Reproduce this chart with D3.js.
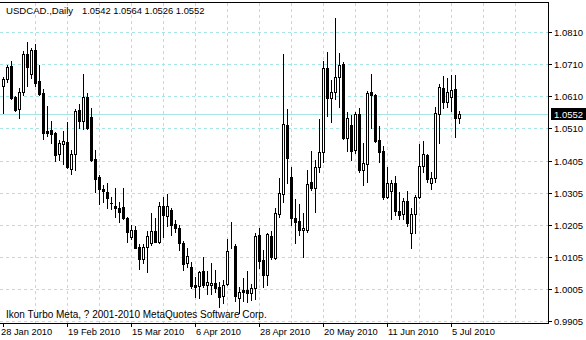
<!DOCTYPE html>
<html><head><meta charset="utf-8">
<script src="https://cdn.jsdelivr.net/npm/d3@7"></script>
<style>
body{margin:0;background:#fff}
svg{display:block}
text{font-family:"Liberation Sans",Arial,sans-serif;fill:#000}
</style>
</head><body>
<svg id="chart" width="586" height="340"></svg>
<script>
// ---------- data ----------
const symbol = "USDCAD.,Daily";
const headerValues = ["1.0542", "1.0564", "1.0526", "1.0552"];
const copyright = "Ikon Turbo Meta, ? 2001-2010 MetaQuotes Software Corp.";

const dates = [
"2010-01-28","2010-01-29",
"2010-02-01","2010-02-02","2010-02-03","2010-02-04","2010-02-05",
"2010-02-08","2010-02-09","2010-02-10","2010-02-11","2010-02-12",
"2010-02-15","2010-02-16","2010-02-17","2010-02-18","2010-02-19",
"2010-02-22","2010-02-23","2010-02-24","2010-02-25","2010-02-26",
"2010-03-01","2010-03-02","2010-03-03","2010-03-04","2010-03-05",
"2010-03-08","2010-03-09","2010-03-10","2010-03-11","2010-03-12",
"2010-03-15","2010-03-16","2010-03-17","2010-03-18","2010-03-19",
"2010-03-22","2010-03-23","2010-03-24","2010-03-25","2010-03-26",
"2010-03-29","2010-03-30","2010-03-31","2010-04-01","2010-04-02",
"2010-04-05","2010-04-06","2010-04-07","2010-04-08","2010-04-09",
"2010-04-12","2010-04-13","2010-04-14","2010-04-15","2010-04-16",
"2010-04-19","2010-04-20","2010-04-21","2010-04-22","2010-04-23",
"2010-04-26","2010-04-27","2010-04-28","2010-04-29","2010-04-30",
"2010-05-03","2010-05-04","2010-05-05","2010-05-06","2010-05-07",
"2010-05-10","2010-05-11","2010-05-12","2010-05-13","2010-05-14",
"2010-05-17","2010-05-18","2010-05-19","2010-05-20","2010-05-21",
"2010-05-24","2010-05-25","2010-05-26","2010-05-27","2010-05-28",
"2010-05-31","2010-06-01","2010-06-02","2010-06-03","2010-06-04",
"2010-06-07","2010-06-08","2010-06-09","2010-06-10","2010-06-11",
"2010-06-14","2010-06-15","2010-06-16","2010-06-17","2010-06-18",
"2010-06-21","2010-06-22","2010-06-23","2010-06-24","2010-06-25",
"2010-06-28","2010-06-29","2010-06-30","2010-07-01","2010-07-02",
"2010-07-05","2010-07-06","2010-07-07"];

const openVals = [
1.0641,1.0662,1.0704,1.0607,1.0568,1.0621,1.0740,1.0680,1.0753,1.0657,
1.0618,1.0501,1.0503,1.0493,1.0429,1.0458,1.0467,1.0381,1.0427,1.0566,
1.0532,1.0608,1.0544,1.0412,1.0355,1.0318,1.0310,1.0275,1.0266,1.0260,
1.0262,1.0229,1.0169,1.0190,1.0138,1.0098,1.0136,1.0148,1.0187,1.0153,
1.0265,1.0235,1.0253,1.0209,1.0197,1.0148,1.0086,1.0075,1.0018,1.0016,
1.0062,1.0018,1.0018,1.0025,1.0012,0.9984,1.0020,1.0143,1.0141,0.9976,
1.0002,1.0002,0.9992,1.0007,1.0174,1.0096,1.0049,1.0172,1.0103,1.0240,
1.0302,1.0519,1.0355,1.0227,1.0218,1.0190,1.0190,1.0339,1.0321,1.0386,
1.0435,1.0697,1.0602,1.0621,1.0670,1.0709,1.0479,1.0519,1.0441,1.0552,
1.0378,1.0396,1.0621,1.0613,1.0472,1.0438,1.0294,1.0312,1.0336,1.0250,
1.0239,1.0281,1.0180,1.0239,1.0292,1.0391,1.0425,1.0336,1.0354,1.0553,
1.0634,1.0592,1.0608,1.0632,1.0542];
const highVals = [
1.0669,1.0707,1.0719,1.0610,1.0635,1.0751,1.0778,1.0759,1.0772,1.0707,
1.0632,1.0579,1.0531,1.0498,1.0471,1.0500,1.0527,1.0441,1.0569,1.0584,
1.0678,1.0618,1.0571,1.0441,1.0362,1.0331,1.0336,1.0294,1.0321,1.0277,
1.0323,1.0232,1.0206,1.0204,1.0145,1.0145,1.0187,1.0242,1.0227,1.0279,
1.0294,1.0303,1.0258,1.0221,1.0206,1.0156,1.0133,1.0089,1.0044,1.0062,
1.0106,1.0062,1.0086,1.0065,1.0028,1.0033,1.0162,1.0214,1.0145,1.0012,
1.0039,1.0062,1.0020,1.0180,1.0195,1.0127,1.0180,1.0187,1.0258,1.0354,
1.0740,1.0569,1.0388,1.0287,1.0271,1.0244,1.0378,1.0437,1.0409,1.0538,
1.0719,1.0747,1.0660,1.0853,1.0743,1.0717,1.0561,1.0550,1.0559,1.0571,
1.0462,1.0625,1.0678,1.0615,1.0516,1.0454,1.0386,1.0347,1.0359,1.0310,
1.0291,1.0312,1.0258,1.0300,1.0458,1.0469,1.0427,1.0371,1.0574,1.0646,
1.0672,1.0665,1.0676,1.0676,1.0564];
const lowVals = [
1.0556,1.0654,1.0600,1.0563,1.0542,1.0613,1.0642,1.0665,1.0642,1.0613,
1.0475,1.0485,1.0463,1.0407,1.0409,1.0396,1.0383,1.0366,1.0378,1.0509,
1.0506,1.0506,1.0406,1.0310,1.0271,1.0279,1.0258,1.0256,1.0232,1.0216,
1.0225,1.0153,1.0162,1.0133,1.0067,1.0086,1.0059,1.0143,1.0151,1.0148,
1.0169,1.0204,1.0174,1.0185,1.0127,1.0065,1.0075,1.0009,0.9981,0.9976,
1.0012,0.9989,0.9989,0.9997,0.9950,0.9960,1.0018,1.0133,0.9968,0.9929,
0.9968,0.9965,0.9971,0.9974,1.0072,1.0012,1.0018,1.0099,1.0099,1.0232,
1.0279,1.0336,1.0206,1.0148,1.0174,1.0106,1.0185,1.0315,1.0245,1.0371,
1.0402,1.0548,1.0529,1.0600,1.0576,1.0475,1.0437,1.0409,1.0430,1.0371,
1.0331,1.0341,1.0510,1.0467,1.0404,1.0286,1.0291,1.0224,1.0237,1.0225,
1.0225,1.0204,1.0135,1.0180,1.0291,1.0373,1.0341,1.0318,1.0339,1.0463,
1.0573,1.0576,1.0563,1.0482,1.0526];
const closeVals = [
1.0663,1.0701,1.0602,1.0566,1.0621,1.0740,1.0700,1.0755,1.0651,1.0617,
1.0495,1.0495,1.0490,1.0425,1.0463,1.0469,1.0386,1.0428,1.0563,1.0532,
1.0608,1.0509,1.0409,1.0349,1.0318,1.0312,1.0291,1.0274,1.0258,1.0247,
1.0227,1.0185,1.0190,1.0135,1.0098,1.0138,1.0172,1.0187,1.0153,1.0265,
1.0237,1.0265,1.0206,1.0195,1.0148,1.0083,1.0109,1.0016,1.0011,1.0059,
1.0018,1.0028,1.0025,1.0007,0.9981,1.0018,1.0124,1.0144,0.9984,0.9997,
0.9997,0.9992,1.0007,1.0172,1.0093,1.0049,1.0177,1.0106,1.0242,1.0305,
1.0521,1.0415,1.0227,1.0216,1.0190,1.0195,1.0333,1.0321,1.0388,1.0433,
1.0697,1.0602,1.0621,1.0670,1.0707,1.0477,1.0540,1.0438,1.0552,1.0378,
1.0399,1.0618,1.0613,1.0469,1.0435,1.0294,1.0336,1.0336,1.0250,1.0237,
1.0281,1.0211,1.0239,1.0294,1.0391,1.0427,1.0349,1.0354,1.0556,1.0637,
1.0592,1.0621,1.0628,1.0542,1.0552];

const yTickValues = [0.9905,1.0005,1.0105,1.0205,1.0305,1.0405,1.0510,1.0610,1.0710,1.0810];
const yTickLabels = ["0.9905","1.0005","1.0105","1.0205","1.0305","1.0405","1.0510","1.0610","1.0710","1.0810"];
const xTickDates = ["2010-01-28","2010-02-19","2010-03-15","2010-04-06","2010-04-28","2010-05-20","2010-06-11","2010-07-05"];
const xTickLabels = ["28 Jan 2010","19 Feb 2010","15 Mar 2010","6 Apr 2010","28 Apr 2010","20 May 2010","11 Jun 2010","5 Jul 2010"];
const lastPrice = 1.0552;

// ---------- layout ----------
const W = 586, H = 340;
const plotLeft = 0, plotRight = 548, plotTop = 2, plotBottom = 323;
const firstBarX = 3, barStep = 4, gridEvery = 8;
const gridColor = "#a8e6e6";

const svg = d3.select("#chart");
svg.append("rect").attr("width", W).attr("height", H).attr("fill", "#fff");

const x = d3.scaleLinear().domain([0, dates.length - 1])
  .range([firstBarX, firstBarX + barStep * (dates.length - 1)]);
const y = d3.scaleLinear().domain([0.9905, 1.0810]).range([321, 32]);

const g = svg.append("g").attr("shape-rendering", "crispEdges");

// vertical grid
const gridIdx = d3.range(0, 200, gridEvery).filter(i => x(i) < plotRight - 2 && x(i) > plotLeft + 1 + 4);
g.selectAll("line.vg").data(gridIdx).join("line")
  .attr("x1", i => Math.round(x(i)) + 0.5).attr("x2", i => Math.round(x(i)) + 0.5)
  .attr("y1", plotTop + 1).attr("y2", plotBottom)
  .attr("stroke", gridColor).attr("stroke-width", 1).attr("stroke-dasharray", "3,3");

// horizontal grid
g.selectAll("line.hg").data(yTickValues).join("line")
  .attr("x1", plotLeft).attr("x2", plotRight)
  .attr("y1", v => Math.round(y(v)) + 0.5).attr("y2", v => Math.round(y(v)) + 0.5)
  .attr("stroke", gridColor).attr("stroke-width", 1).attr("stroke-dasharray", "3,3");

// last price line
g.append("line").attr("x1", plotLeft).attr("x2", plotRight)
  .attr("y1", Math.round(y(lastPrice)) + 0.5).attr("y2", Math.round(y(lastPrice)) + 0.5)
  .attr("stroke", gridColor).attr("stroke-width", 1);

// candles
const bars = dates.map((d, i) => ({i, o: openVals[i], h: highVals[i], l: lowVals[i], c: closeVals[i]}));
const cg = g.append("g");
bars.forEach(b => {
  const px = Math.round(x(b.i));
  const yh = Math.round(y(b.h)), yl = Math.round(y(b.l));
  const top = Math.round(y(Math.max(b.o, b.c))), bot = Math.round(y(Math.min(b.o, b.c)));
  cg.append("rect").attr("x", px).attr("y", yh).attr("width", 1).attr("height", Math.max(1, yl - yh + 1)).attr("fill", "#000");
  if (b.c > b.o) {
    cg.append("rect").attr("x", px - 0.5).attr("y", top + 0.5).attr("width", 2).attr("height", Math.max(0, bot - top))
      .attr("fill", "#fff").attr("stroke", "#000").attr("stroke-width", 1);
  } else {
    cg.append("rect").attr("x", px - 1).attr("y", top).attr("width", 3).attr("height", Math.max(1, bot - top + 1)).attr("fill", "#000");
  }
});

// frame
g.append("line").attr("x1", 0).attr("x2", plotRight + 1).attr("y1", plotTop + 0.5).attr("y2", plotTop + 0.5).attr("stroke", "#000");
g.append("line").attr("x1", plotRight + 0.5).attr("x2", plotRight + 0.5).attr("y1", plotTop).attr("y2", plotBottom + 1).attr("stroke", "#000");
g.append("line").attr("x1", 0).attr("x2", plotRight + 1).attr("y1", plotBottom + 0.5).attr("y2", plotBottom + 0.5).attr("stroke", "#000");

// y axis ticks + labels
const yAxisG = svg.append("g");
yTickValues.forEach((v, k) => {
  const yy = Math.round(y(v));
  yAxisG.append("line").attr("x1", plotRight + 1).attr("x2", plotRight + 4)
    .attr("y1", yy + 0.5).attr("y2", yy + 0.5).attr("stroke", "#000").attr("shape-rendering", "crispEdges");
  yAxisG.append("text").attr("x", 554).attr("y", yy + 4).attr("font-size", "9.5px").text(yTickLabels[k]);
});
// last price box
const ly = Math.round(y(lastPrice));
yAxisG.append("rect").attr("x", plotRight + 3).attr("y", ly - 6).attr("width", W - plotRight - 3).attr("height", 12)
  .attr("fill", "#000").attr("shape-rendering", "crispEdges");
yAxisG.append("text").attr("x", 554).attr("y", ly + 4).attr("font-size", "9.5px").style("fill", "#fff").text(d3.format(".4f")(lastPrice));

// x axis ticks + labels
const xAxisG = svg.append("g");
xTickDates.forEach((d, k) => {
  const idx = dates.indexOf(d);
  const xx = Math.round(x(idx));
  xAxisG.append("line").attr("x1", xx + 0.5).attr("x2", xx + 0.5).attr("y1", plotBottom + 1).attr("y2", plotBottom + 4)
    .attr("stroke", "#000").attr("shape-rendering", "crispEdges");
  xAxisG.append("text").attr("x", k === 0 ? 1 : xx + 1).attr("y", 335).attr("font-size", "9.3px").text(xTickLabels[k]);
});

// header and copyright
svg.append("text").attr("x", 6).attr("y", 14).attr("font-size", "9.6px").text(symbol);
svg.append("text").attr("x", 82).attr("y", 14).attr("font-size", "9.4px").text(headerValues.join(" "));
svg.append("text").attr("x", 6).attr("y", 317.5).attr("font-size", "10px").text(copyright);
</script>
</body></html>
